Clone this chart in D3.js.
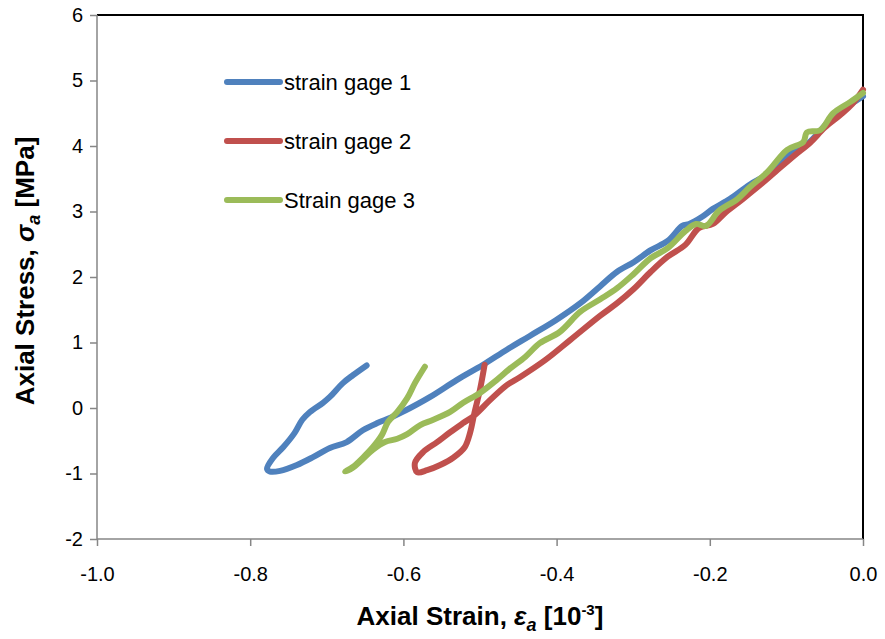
<!DOCTYPE html>
<html>
<head>
<meta charset="utf-8">
<title>Axial stress vs axial strain</title>
<script src="https://cdn.jsdelivr.net/npm/d3@7"></script>
<style>
  body { margin: 0; background: #fff; }
  text { font-family: "Liberation Sans", Arial, sans-serif; fill: #000; }
</style>
</head>
<body>
<svg width="885" height="639"></svg>
<script>
// [strain (10^-3), stress (MPa)]
var gage1 = [
  [-0.648, 0.65], [-0.666, 0.50], [-0.679, 0.38], [-0.696, 0.17], [-0.705, 0.08],
  [-0.722, -0.06], [-0.732, -0.18], [-0.742, -0.38], [-0.757, -0.60], [-0.770, -0.76],
  [-0.778, -0.93], [-0.774, -0.97], [-0.761, -0.96], [-0.739, -0.87], [-0.718, -0.75],
  [-0.696, -0.61], [-0.674, -0.52], [-0.653, -0.34], [-0.634, -0.23], [-0.617, -0.15],
  [-0.601, -0.06], [-0.565, 0.17], [-0.530, 0.43], [-0.496, 0.66], [-0.465, 0.89],
  [-0.435, 1.10], [-0.401, 1.34], [-0.369, 1.60], [-0.343, 1.86], [-0.321, 2.08],
  [-0.299, 2.23], [-0.277, 2.41], [-0.255, 2.55], [-0.236, 2.78], [-0.227, 2.81],
  [-0.210, 2.92], [-0.196, 3.04], [-0.174, 3.19], [-0.148, 3.41], [-0.121, 3.60],
  [-0.095, 3.91], [-0.074, 4.02], [-0.056, 4.23], [-0.037, 4.47], [-0.017, 4.63],
  [0.0, 4.76]
];
var gage2 = [
  [-0.494, 0.66], [-0.500, 0.28], [-0.507, -0.06], [-0.513, -0.38], [-0.520, -0.60],
  [-0.535, -0.76], [-0.552, -0.87], [-0.569, -0.95], [-0.582, -0.98], [-0.585, -0.84],
  [-0.574, -0.67], [-0.556, -0.52], [-0.539, -0.37], [-0.522, -0.23], [-0.507, -0.11],
  [-0.487, 0.12], [-0.465, 0.35], [-0.448, 0.47], [-0.415, 0.73], [-0.382, 1.04],
  [-0.343, 1.41], [-0.321, 1.60], [-0.299, 1.82], [-0.277, 2.08], [-0.255, 2.31],
  [-0.232, 2.49], [-0.214, 2.75], [-0.196, 2.81], [-0.179, 2.99], [-0.157, 3.19],
  [-0.138, 3.37], [-0.115, 3.60], [-0.089, 3.86], [-0.069, 4.05], [-0.050, 4.28],
  [-0.030, 4.47], [-0.014, 4.64], [0.0, 4.86]
];
var gage3 = [
  [-0.572, 0.63], [-0.585, 0.38], [-0.595, 0.15], [-0.608, -0.06], [-0.620, -0.21],
  [-0.628, -0.41], [-0.640, -0.60], [-0.653, -0.76], [-0.666, -0.90], [-0.676, -0.97],
  [-0.667, -0.92], [-0.654, -0.79], [-0.640, -0.64], [-0.624, -0.52], [-0.608, -0.47],
  [-0.595, -0.40], [-0.578, -0.26], [-0.561, -0.18], [-0.539, -0.06], [-0.522, 0.08],
  [-0.500, 0.23], [-0.478, 0.43], [-0.461, 0.60], [-0.441, 0.78], [-0.422, 0.99],
  [-0.396, 1.16], [-0.369, 1.47], [-0.343, 1.66], [-0.321, 1.83], [-0.299, 2.05],
  [-0.277, 2.29], [-0.255, 2.44], [-0.232, 2.70], [-0.218, 2.81], [-0.205, 2.78],
  [-0.188, 3.01], [-0.164, 3.19], [-0.148, 3.37], [-0.125, 3.60], [-0.099, 3.94],
  [-0.078, 4.06], [-0.073, 4.21], [-0.056, 4.24], [-0.039, 4.50], [-0.017, 4.67],
  [0.0, 4.81]
];
var seriesNames = ["strain gage 1", "strain gage 2", "Strain gage 3"];
var seriesColors = ["#4F81BD", "#C0504D", "#9BBB59"];
var xTicks = [-1.0, -0.8, -0.6, -0.4, -0.2, 0.0];
var yTicks = [-2, -1, 0, 1, 2, 3, 4, 5, 6];

var svg = d3.select("svg");
var margin = {top: 15, right: 22, bottom: 100, left: 97};
var width = +svg.attr("width") - margin.left - margin.right;
var height = +svg.attr("height") - margin.top - margin.bottom;
var g = svg.append("g").attr("transform", "translate(" + margin.left + "," + margin.top + ")");

var x = d3.scaleLinear().domain([-1, 0]).range([0, width]);
var y = d3.scaleLinear().domain([-2, 6]).range([height, 0]);

// plain hyphen for negatives, like the original
var fmt = function(f) { return function(d) { return d3.format(f)(d).replace("\u2212", "-"); }; };

// plot area border (top + right black)
g.append("path")
  .attr("d", "M0,0H" + width + "V" + height)
  .attr("fill", "none").attr("stroke", "#000").attr("stroke-width", 2);

// axes
var yAxis = g.append("g")
  .call(d3.axisLeft(y).tickValues(yTicks).tickFormat(fmt("d")).tickSize(7).tickPadding(7));
var xAxis = g.append("g")
  .attr("transform", "translate(0," + height + ")")
  .call(d3.axisBottom(x).tickValues(xTicks).tickFormat(fmt(".1f")).tickSize(7).tickPadding(21));
[xAxis, yAxis].forEach(function(a) {
  a.selectAll(".domain").attr("stroke", "#868686").attr("stroke-width", 1.5);
  a.selectAll(".tick line").attr("stroke", "#868686").attr("stroke-width", 1.5);
  a.selectAll(".tick text").attr("font-size", 20).attr("fill", "#000")
    .style("font-family", '"Liberation Sans", Arial, sans-serif');
});
xAxis.select(".domain").attr("d", "M0,0H" + width);
yAxis.select(".domain").attr("d", "M0,0V" + height);

// series
var line = d3.line().x(function(d) { return x(d[0]); }).y(function(d) { return y(d[1]); })
  .curve(d3.curveCatmullRom);
[gage1, gage2, gage3].forEach(function(s, i) {
  g.append("path")
    .datum(s)
    .attr("d", line)
    .attr("fill", "none")
    .attr("stroke", seriesColors[i])
    .attr("stroke-width", 6)
    .attr("stroke-linecap", "round")
    .attr("stroke-linejoin", "round");
});

// legend
var legend = svg.append("g").attr("transform", "translate(227,82)");
seriesNames.forEach(function(name, i) {
  var row = legend.append("g").attr("transform", "translate(0," + i * 59 + ")");
  row.append("line").attr("x1", 0).attr("x2", 53).attr("y1", 0).attr("y2", 0)
    .attr("stroke", seriesColors[i]).attr("stroke-width", 6).attr("stroke-linecap", "round");
  row.append("text").attr("x", 57).attr("y", 0).attr("dy", "0.35em")
    .attr("font-size", 22).text(name);
});

// axis titles
var yt = svg.append("text")
  .attr("transform", "translate(34,271) rotate(-90)")
  .attr("text-anchor", "middle").attr("font-size", 26).attr("font-weight", "bold");
yt.append("tspan").text("Axial Stress, ");
yt.append("tspan").attr("font-style", "italic").text("σ");
yt.append("tspan").attr("font-style", "italic").attr("font-size", 18).attr("dy", 6).text("a");
yt.append("tspan").attr("dy", -6).text(" [MPa]");

var xt = svg.append("text")
  .attr("x", 480).attr("y", 625)
  .attr("text-anchor", "middle").attr("font-size", 26).attr("font-weight", "bold");
xt.append("tspan").text("Axial Strain, ");
xt.append("tspan").attr("font-style", "italic").text("ε");
xt.append("tspan").attr("font-style", "italic").attr("font-size", 18).attr("dy", 6).text("a");
xt.append("tspan").attr("dy", -6).text(" [10");
xt.append("tspan").attr("font-size", 15).attr("dy", -10).text("-3");
xt.append("tspan").attr("dy", 10).text("]");
</script>
</body>
</html>
